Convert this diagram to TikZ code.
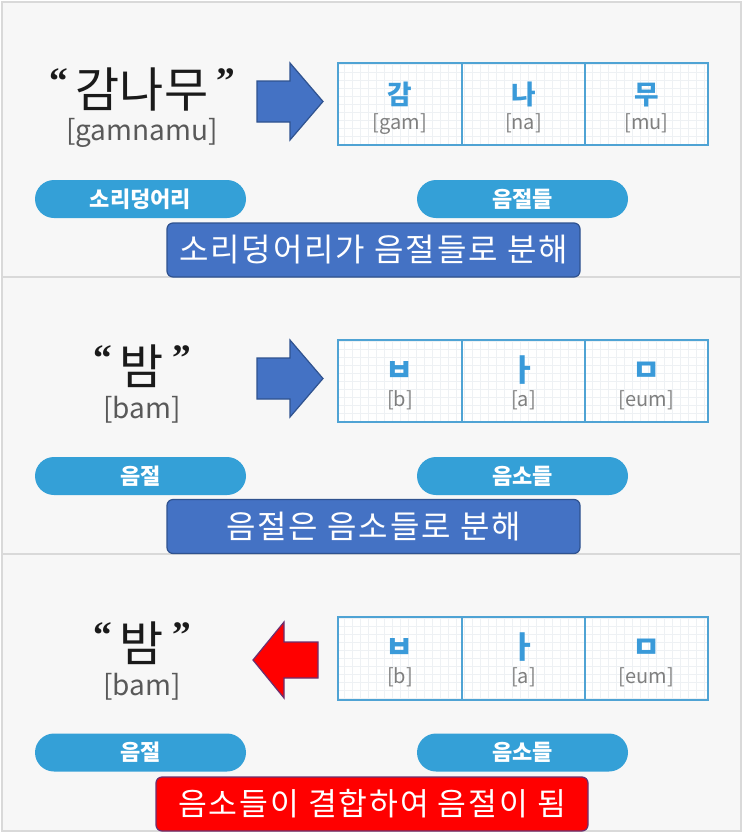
\documentclass[tikz,border=0pt]{standalone}
\usepackage{fontspec}
\setmainfont{Noto Sans CJK KR}
\newfontfamily\kr{Noto Sans CJK KR}
\newfontfamily\krsp[LetterSpace=6]{Noto Sans CJK KR}
\newfontfamily\qf{Liberation Serif}
\definecolor{panelbg}{HTML}{F7F7F7}
\definecolor{panelline}{HTML}{D9D9D9}
\definecolor{arrowblue}{HTML}{4472C4}
\definecolor{darkedge}{HTML}{2F528F}
\definecolor{rededge}{HTML}{6B3070}
\definecolor{pillblue}{HTML}{34A0D7}
\definecolor{cellline}{HTML}{4FA3D4}
\definecolor{gridline}{HTML}{EEF1F4}
\definecolor{sylblue}{HTML}{3A9AD9}
\definecolor{romgray}{HTML}{7F7F7F}
\definecolor{subgray}{HTML}{595959}
\definecolor{titleblack}{HTML}{1A1A1A}
\newcommand\mytitle[1]{\raisebox{10pt}{\qf\bfseries\fontsize{28}{30}\selectfont “}\hspace{6pt}#1\hspace{6pt}\raisebox{10pt}{\qf\bfseries\fontsize{28}{30}\selectfont ”}}
\begin{document}
\begin{tikzpicture}[x=0.75pt,y=-0.75pt,
  titletext/.style={font=\kr\fontsize{36}{40}\selectfont, text=titleblack, inner sep=0pt, anchor=base},
  subtext/.style={font=\kr\fontsize{21}{24}\selectfont, text=subgray, inner sep=0pt, anchor=base},
  syl/.style={font=\kr\bfseries\fontsize{20}{24}\selectfont, text=sylblue, inner sep=0pt, anchor=base},
  jamo/.style={font=\kr\bfseries\fontsize{23}{26}\selectfont, text=sylblue, inner sep=0pt, anchor=base},
  rom/.style={font=\kr\fontsize{15}{18}\selectfont, text=romgray, inner sep=0pt, anchor=base},
  pill/.style={fill=pillblue, rounded corners=14.25pt, minimum width=158.25pt, minimum height=28.5pt, inner sep=0pt, text=white, font=\kr\bfseries\fontsize{16.5}{19}\selectfont},
  bigbox/.style={fill=arrowblue, draw=darkedge, line width=0.9pt, rounded corners=4.5pt, minimum width=309.75pt, minimum height=40.5pt, inner sep=0pt, text=white, font=\krsp\fontsize{24}{28}\selectfont},
  redbox/.style={bigbox, fill=red, draw=rededge, minimum width=324pt, font=\krsp\fontsize{23.5}{28}\selectfont},
  bluearrow/.style={fill=arrowblue, draw=darkedge, line width=0.9pt, line join=miter},
  redarrow/.style={fill=red, draw=rededge, line width=0.9pt, line join=miter},
  cellbox/.style={draw=cellline, line width=1.1pt},
  gridlines/.style={draw=gridline, line width=0.25pt, step=6pt}
]
\useasboundingbox (0,0) rectangle (743,840);
\fill[white] (0,0) rectangle (743,840);
\filldraw[fill=panelbg, draw=panelline, line width=1.3pt] (2,2) rectangle (741,831);
\draw[panelline, line width=1.3pt] (2,277) -- (741,277);
\draw[panelline, line width=1.3pt] (2,554) -- (741,554);

% ---------- panel 1 ----------
\node[titletext] (t1) at (142,107) {\mytitle{감나무}};
\node[subtext] (s1) at (142,140) {[gamnamu]};
\draw[bluearrow] (257,81) -- (290,81) -- (290,63) -- (323,101.5) -- (290,140) -- (290,122) -- (257,122) -- cycle;
\fill[white] (338,63) rectangle (708,145);
\draw[gridlines] (338,63) grid (708,145);
\draw[cellbox] (338,63) rectangle (708,145);
\draw[cellbox] (462,63) -- (462,145);
\draw[cellbox] (585,63) -- (585,145);
\node[syl] (a1) at (400,104) {감};
\node[syl] (a2) at (523.5,104) {나};
\node[syl] (a3) at (646.5,104) {무};
\node[rom] (r1) at (400,129) {[gam]};
\node[rom] (r2) at (523.5,129) {[na]};
\node[rom] (r3) at (646.5,129) {[mu]};
\node[pill] (p1) at (140.5,199) {소리덩어리};
\node[pill] (q1) at (522.5,199) {음절들};
\node[bigbox] (b1) at (373.5,250) {소리덩어리가 음절들로 분해};

% ---------- panel 2 ----------
\begin{scope}[shift={(0,277)}]
\node[titletext] (t2) at (142,107) {\mytitle{밤}};
\node[subtext] (s2) at (142,141) {[bam]};
\draw[bluearrow] (257,81) -- (290,81) -- (290,63) -- (323,101.5) -- (290,140) -- (290,122) -- (257,122) -- cycle;
\fill[white] (338,63) rectangle (708,145);
\draw[gridlines] (338,63) grid (708,145);
\draw[cellbox] (338,63) rectangle (708,145);
\draw[cellbox] (462,63) -- (462,145);
\draw[cellbox] (585,63) -- (585,145);
\node[jamo] (b2a) at (400,104) {ㅂ};
\node[jamo] (b2b) at (523.5,104) {ㅏ};
\node[jamo] (b2c) at (646.5,104) {ㅁ};
\node[rom] (r2a) at (400,129) {[b]};
\node[rom] (r2b) at (523.5,129) {[a]};
\node[rom] (r2c) at (646.5,129) {[eum]};
\node[pill] (p2) at (140.5,199) {음절};
\node[pill] (q2) at (522.5,199) {음소들};
\node[bigbox] (b2) at (373.5,249.5) {음절은 음소들로 분해};
\end{scope}

% ---------- panel 3 ----------
\begin{scope}[shift={(0,554)}]
\node[titletext] (t3) at (142,107) {\mytitle{밤}};
\node[subtext] (s3) at (142,141) {[bam]};
\draw[redarrow] (318,88) -- (284,88) -- (284,68) -- (253,106) -- (284,144) -- (284,124) -- (318,124) -- cycle;
\fill[white] (338,63) rectangle (708,146);
\draw[gridlines] (338,63) grid (708,146);
\draw[cellbox] (338,63) rectangle (708,146);
\draw[cellbox] (462,63) -- (462,146);
\draw[cellbox] (585,63) -- (585,146);
\node[jamo] (b3a) at (400,104) {ㅂ};
\node[jamo] (b3b) at (523.5,104) {ㅏ};
\node[jamo] (b3c) at (646.5,104) {ㅁ};
\node[rom] (r3a) at (400,129) {[b]};
\node[rom] (r3b) at (523.5,129) {[a]};
\node[rom] (r3c) at (646.5,129) {[eum]};
\node[pill] (p3) at (140.5,198.5) {음절};
\node[pill] (q3) at (522.5,198.5) {음소들};
\node[redbox] (b3) at (372,250) {음소들이 결합하여 음절이 됨};
\end{scope}
\end{tikzpicture}
\end{document}
